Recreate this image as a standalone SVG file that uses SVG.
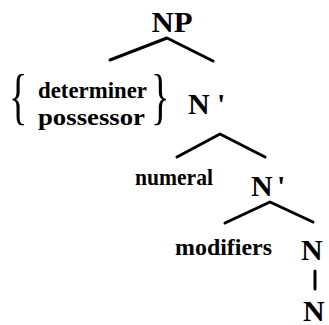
<svg xmlns="http://www.w3.org/2000/svg" width="329" height="325" viewBox="0 0 329 325">
<style>
text{font-family:'Liberation Serif','Times New Roman','DejaVu Serif',serif;font-weight:bold;fill:#000}
.cat{font-size:30px}
.lbl{font-size:23px}
.br{font-size:62px;font-weight:normal}
.edge{stroke:#000;stroke-width:3;fill:none;stroke-linecap:round;stroke-linejoin:round}
</style>
<rect width="329" height="325" fill="#fff"/>
<g id="connectors">
<path class="edge" d="M110,60 L167,38 L213,61"/>
<path class="edge" d="M177,157 L220,134 L265,157"/>
<path class="edge" d="M225,223 L270,202 L313,222"/>
<path class="edge" d="M315,271 L315,289"/>
</g>
<g id="np"><text class="cat" x="172" y="32" text-anchor="middle" textLength="41" lengthAdjust="spacingAndGlyphs">NP</text></g>
<g id="det-poss">
<text class="br" transform="translate(9,117) scale(0.62,1)">{</text>
<text class="lbl" x="38" y="98" textLength="109" lengthAdjust="spacingAndGlyphs">determiner</text>
<text class="lbl" x="38" y="125" textLength="107" lengthAdjust="spacingAndGlyphs">possessor</text>
<text class="br" transform="translate(151,117) scale(0.62,1)">}</text>
</g>
<g id="nbar1"><text class="cat" x="188" y="114">N</text><text class="cat" x="217" y="114">'</text></g>
<g id="numeral"><text class="lbl" x="135" y="185" textLength="78" lengthAdjust="spacingAndGlyphs">numeral</text></g>
<g id="nbar2"><text class="cat" x="251" y="196">N</text><text class="cat" x="277" y="196">'</text></g>
<g id="modifiers"><text class="lbl" x="175" y="255" textLength="97" lengthAdjust="spacingAndGlyphs">modifiers</text></g>
<g id="n1"><text class="cat" x="301" y="260">N</text></g>
<g id="n2"><text class="cat" x="303" y="321">N</text></g>
</svg>
